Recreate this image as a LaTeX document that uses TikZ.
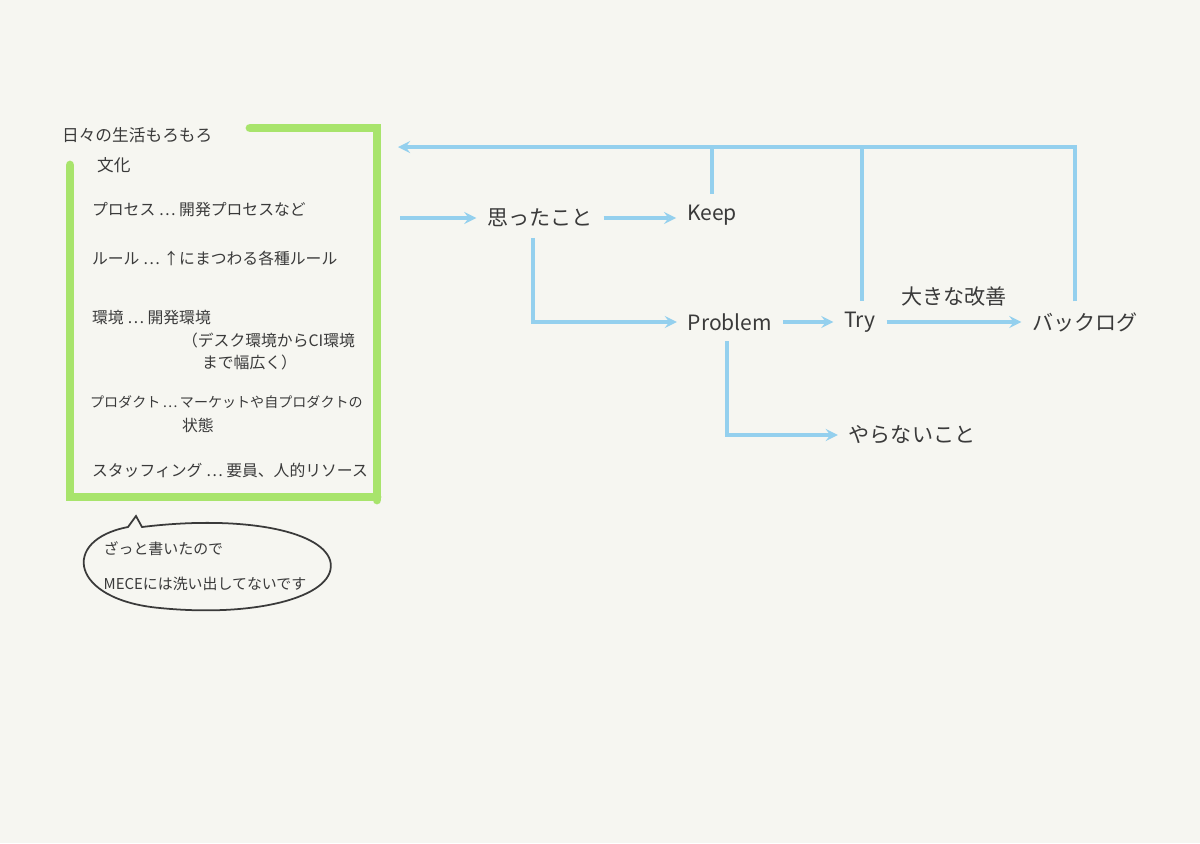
\documentclass[tikz,border=0pt]{standalone}
\usepackage{fontspec}
\setmainfont{Noto Sans CJK JP}
\usetikzlibrary{positioning, arrows}
\definecolor{paper}{HTML}{F6F6F1}
\definecolor{leaf}{HTML}{A8E46C}
\definecolor{sky}{HTML}{94D0EE}
\definecolor{ink}{HTML}{3A3A3A}
\tikzstyle{note} = [text=ink, font=\fontsize{9}{11}\selectfont, inner sep=1pt]
\tikzstyle{item} = [note, anchor=west]
\tikzstyle{word} = [text=ink, font=\fontsize{12}{14}\selectfont, inner sep=6pt]
\tikzstyle{frame} = [leaf, line width=5pt, line cap=round]
\tikzstyle{arrow} = [sky, line width=2pt, ->, >=stealth]
\tikzstyle{link} = [sky, line width=2pt]

\begin{document}
\begin{tikzpicture}[x=0.02cm, y=-0.02cm]
\fill[paper] (0,0) rectangle (1200,843);
% frame
\draw [frame] (250,128) -- (377,128) -- (377,500);
\draw [frame] (70,165) -- (70,497) -- (377,497);
\node (title) [note, anchor=west, font=\fontsize{9.5}{11}\selectfont] at (60,135) {日々の生活もろもろ};
\node (culture) [item, font=\fontsize{9.5}{11}\selectfont] at (95,165) {文化};
\node (process) [item] at (90,210) {プロセス … 開発プロセスなど};
\node (rule) [item] at (90,258) {ルール … ↑にまつわる各種ルール};
\node (env) [item] at (90,318) {環境 … 開発環境};
\node (env2) [item] at (180,340) {（デスク環境からCI環境};
\node (env3) [item] at (200,362) {まで幅広く）};
\node (product) [item, font=\fontsize{8}{10}\selectfont] at (88,402) {プロダクト\,…\,マーケットや自プロダクトの};
\node (product2) [item] at (180,425) {状態};
\node (staff) [item] at (90,470) {スタッフィング … 要員、人的リソース};
% bubble
\draw [ink, line width=1pt] (128,527) .. controls (60,540) and (70,600) .. (160,608)
  .. controls (260,618) and (340,595) .. (330,560)
  .. controls (320,530) and (240,515) .. (142,527) -- (136,516) -- cycle;
\node (memo) [note, align=left, font=\fontsize{8.5}{20}\selectfont] at (205,566) {ざっと書いたので\\MECEには洗い出してないです};
% flow
\coordinate (src) at (400,218);
\node (thought) [word] at (540,218) {思ったこと};
\node (keep) [word] at (712,215) {Keep};
\node (problem) [word] at (730,322) {Problem};
\node (try) [word] at (860,322) {Try};
\node (backlog) [word] at (1085,322) {バックログ};
\node (skip) [word] at (912,435) {やらないこと};
\coordinate (back) at (398,147);
\draw [arrow] (src) -- (thought);
\draw [arrow] (thought) -- (keep.west |- thought);
\draw [arrow] (thought.south -| 533,0) |- (problem.west);
\draw [arrow] (problem) -- (try);
\draw [arrow] (try) -- node [word, above=2pt] {大きな改善} (backlog);
\draw [arrow] (problem.south -| 727,0) |- (skip.west);
\draw [arrow] (backlog.north -| 1075,0) |- (back);
\draw [link] (keep.north) -- (keep.north |- back);
\draw [link] (try.north -| 862,0) -- (862,147);
\end{tikzpicture}
\end{document}
